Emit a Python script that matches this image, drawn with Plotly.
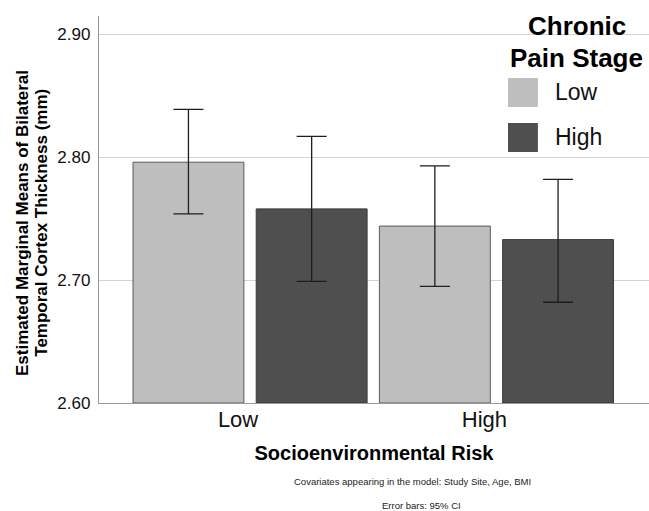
import plotly.graph_objects as go

risk_levels = ["Low", "High"]
pain_stages = ["Low", "High"]
means_low_pain = [2.796, 2.744]
means_high_pain = [2.758, 2.733]
ci_upper_low_pain = [2.839, 2.793]
ci_lower_low_pain = [2.754, 2.695]
ci_upper_high_pain = [2.817, 2.782]
ci_lower_high_pain = [2.699, 2.682]
bar_colors = ["#bebebe", "#4f4f4f"]
edge_colors = ["#5a5a5a", "#3a3a3a"]
y_ticks = [2.60, 2.70, 2.80, 2.90]
y_tick_labels = ["2.60", "2.70", "2.80", "2.90"]
y_title_lines = ["Estimated Marginal Means of Bilateral", "Temporal Cortex Thickness (mm)"]
footnotes = ["Covariates appearing in the model: Study Site, Age, BMI", "Error bars: 95% CI"]

means = [means_low_pain, means_high_pain]
uppers = [ci_upper_low_pain, ci_upper_high_pain]
lowers = [ci_lower_low_pain, ci_lower_high_pain]

FONT = "Liberation Sans, Arial, sans-serif"

fig = go.Figure()
for i, stage in enumerate(pain_stages):
    m = means[i]
    fig.add_trace(go.Bar(
        x=risk_levels, y=[v - 2.60 for v in m], base=2.60,
        name=stage,
        marker=dict(color=bar_colors[i], line=dict(color=edge_colors[i], width=1)),
        error_y=dict(type="data", symmetric=False,
                     array=[u - v for u, v in zip(uppers[i], m)],
                     arrayminus=[v - l for v, l in zip(m, lowers[i])],
                     color="#1e1e1e", thickness=1.3, width=15),
        showlegend=False,
        hoverinfo="skip",
    ))

# legend (drawn manually for large swatches)
sw_x0, sw_x1 = 0.7436, 0.798
sw_rows = [(0.7649, 0.8398), (0.6486, 0.7235)]
for i, stage in enumerate(pain_stages):
    y0, y1 = sw_rows[i]
    fig.add_shape(type="rect", xref="paper", yref="paper",
                  x0=sw_x0, x1=sw_x1, y0=y0, y1=y1,
                  fillcolor=bar_colors[i], line=dict(width=0), layer="above")
    fig.add_annotation(xref="paper", yref="paper", x=0.8255, y=(y0 + y1) / 2,
                       text=stage, showarrow=False, xanchor="left", yanchor="middle",
                       font=dict(family=FONT, size=23, color="#111"))

fig.add_annotation(xref="paper", yref="paper", x=0.869, y=0.975,
                   text="<b>Chronic</b>", showarrow=False,
                   xanchor="center", yanchor="middle",
                   font=dict(family=FONT, size=26, color="#000"))
fig.add_annotation(xref="paper", yref="paper", x=0.869, y=0.892,
                   text="<b>Pain Stage</b>", showarrow=False,
                   xanchor="center", yanchor="middle",
                   font=dict(family=FONT, size=26, color="#000"))

# y axis title (two lines)
for xp, line in zip([-0.14, -0.106], y_title_lines):
    fig.add_annotation(xref="paper", yref="paper", x=xp, y=0.465,
                       text="<b>" + line + "</b>",
                       textangle=-90, showarrow=False, xanchor="center", yanchor="middle",
                       font=dict(family=FONT, size=17, color="#000"))

# footnotes
for (xp, yp), note in zip([(0.57, -0.203), (0.587, -0.264)], footnotes):
    fig.add_annotation(xref="paper", yref="paper", x=xp, y=yp,
                       text=note, showarrow=False, xanchor="center", yanchor="middle",
                       font=dict(family=FONT, size=9.5, color="#222"))

fig.update_layout(
    width=649, height=511,
    margin=dict(l=99, r=0, t=16, b=108, autoexpand=False),
    paper_bgcolor="white", plot_bgcolor="white",
    barmode="group", bargap=0.0, bargroupgap=0.1,
    font=dict(family=FONT, color="#111"),
    xaxis=dict(
        type="category", range=[-0.613, 1.619],
        showgrid=False, showline=True, linecolor="#9a9a9a", linewidth=1.3,
        ticks="", tickfont=dict(size=22, color="#111"), ticklabelshift=-12,
        ticklabelstandoff=-4,
        title=dict(text="<b>Socioenvironmental Risk</b>", font=dict(size=20, color="#000"), standoff=15),
        fixedrange=True,
    ),
    yaxis=dict(
        range=[2.60, 2.915], tickvals=y_ticks, ticktext=y_tick_labels,
        showgrid=True, gridcolor="#d4d4d4", gridwidth=1.3,
        showline=True, linecolor="#9a9a9a", linewidth=1.3,
        ticks="", tickfont=dict(size=17, color="#111"), ticklabelstandoff=4,
        zeroline=False, fixedrange=True,
    ),
)

fig.write_html("out.html", config={"displayModeBar": False},
               post_script="document.body.style.margin='0';document.body.style.overflow='hidden';")
